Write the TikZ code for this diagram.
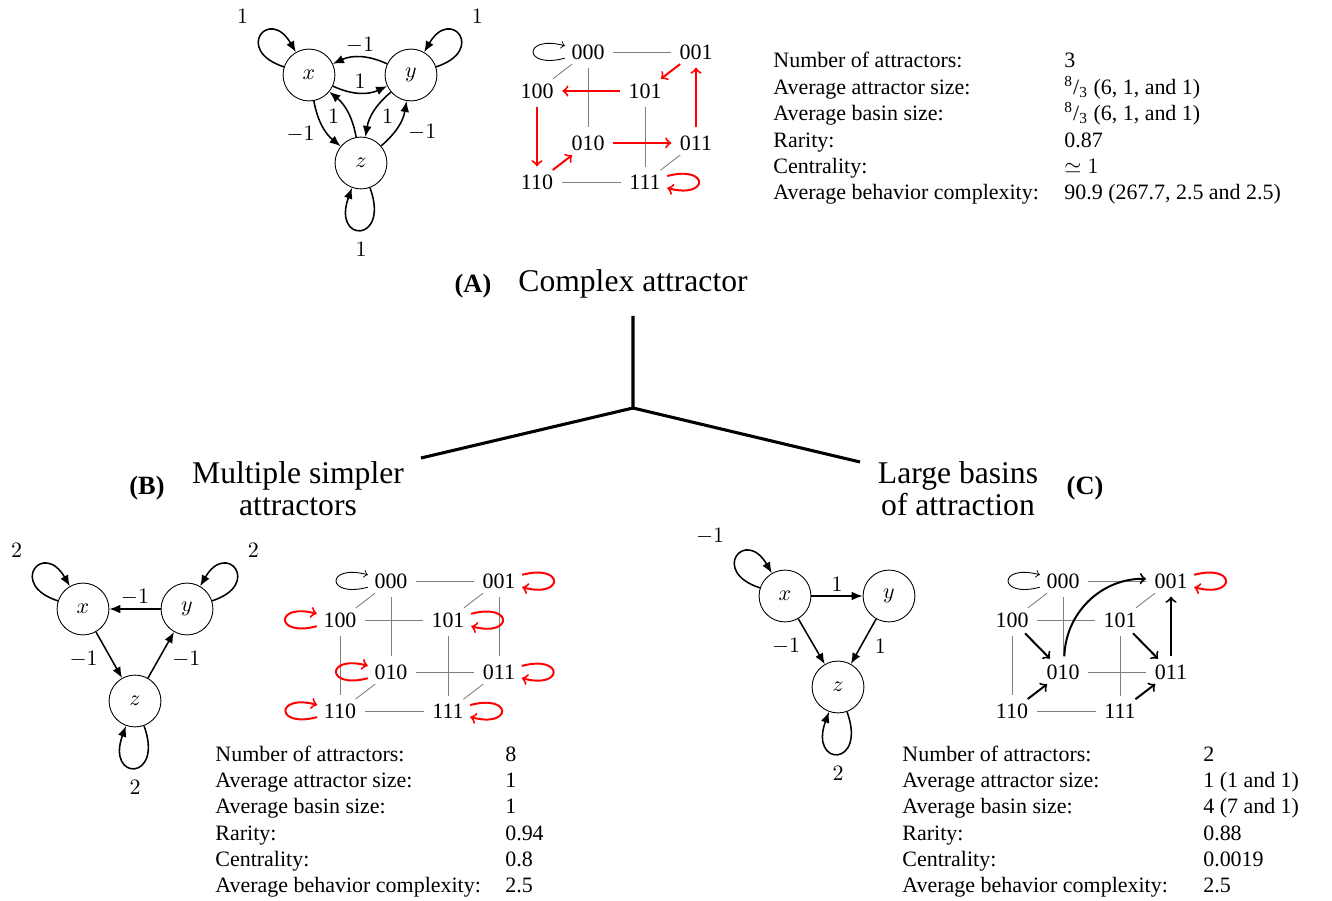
\documentclass[tikz,border=0pt]{standalone}
\usepackage{fontspec}
\setmainfont{Liberation Serif}
\usepackage{amsmath}
\usepackage{amssymb}
\usetikzlibrary{arrows}
\usetikzlibrary{arrows.meta}
\usetikzlibrary{shapes.geometric}

\begin{document}
\begin{tikzpicture}[
    x=0.016cm, y=0.016cm,
    >={Latex[length=5pt, width=4pt]},
    var/.style={circle, draw, line width=0.4pt, minimum size=0.83cm, inner sep=0pt},
    every edge/.append style={draw, ->, line width=0.7pt},
    wlabel/.style={inner sep=1.5pt},
    selfloop/.style={looseness=1, min distance=0.85cm},
    lowloop/.style={looseness=1, min distance=0.95cm, out=-70, in=-110},
    state/.style={ellipse, inner xsep=0.5pt, inner ysep=1.5pt},
    hyper/.style={draw=gray, line width=0.4pt},
    redstep/.style={draw=red, -to, line width=0.9pt},
    blkstep/.style={draw=black, -to, line width=0.9pt},
    stayl/.style={draw=black, -to, line width=0.4pt, out=195, in=165, looseness=1, min distance=0.7cm},
    stayr/.style={draw=red, -to, line width=0.9pt, out=15, in=-15, looseness=1, min distance=0.7cm},
    stayrl/.style={draw=red, -to, line width=0.9pt, out=195, in=165, looseness=1, min distance=0.7cm},
    stats/.style={anchor=base west, inner sep=0pt},
    branch/.style={line width=1.4pt}
]
\useasboundingbox (0,0) rectangle (1332,-901);

% (A) network :
\node[var] (ax) at (309,-75) {$x$};
\node[var] (ay) at (411,-75) {$y$};
\node[var] (az) at (361,-163) {$z$};

\draw (ax) edge[selfloop, out=162, in=120] node[wlabel, above left=4pt, pos=0.5] {$1$} (ax);
\draw (ay) edge[selfloop, out=18, in=60] node[wlabel, above right=4pt, pos=0.5] {$1$} (ay);
\draw (az) edge[lowloop] node[wlabel, below=4pt] {$1$} (az);
\draw (ay) edge[bend right=25] node[wlabel, above] {$-1$} (ax);
\draw (ax) edge[bend right=25] node[wlabel, above] {$1$} (ay);
\draw (ax) edge[bend right=20] node[wlabel, pos=0.7, left=4.5pt] {$-1$} (az);
\draw (az) edge[bend right=20] node[wlabel, pos=0.4, left=3pt] {$1$} (ax);
\draw (ay) edge[bend right=20] node[wlabel, pos=0.6, right=3pt] {$1$} (az);
\draw (az) edge[bend right=20] node[wlabel, pos=0.35, right=4.5pt] {$-1$} (ay);

% (A) state space :
\begin{scope}[shift={(537,-91)}]
\node[state] (a100) at (0,0) {100};
\node[state] (a101) at (108,0) {101};
\node[state] (a110) at (0,-91) {110};
\node[state] (a111) at (108,-91) {111};
\node[state] (a000) at (51,39) {000};
\node[state] (a001) at (159,39) {001};
\node[state] (a010) at (51,-52) {010};
\node[state] (a011) at (159,-52) {011};
\end{scope}

\draw[hyper] (a000) -- (a001);
\draw[hyper] (a000) -- (a100);
\draw[hyper] (a000) -- (a010);
\draw[hyper] (a101) -- (a111);
\draw[hyper] (a011) -- (a111);
\draw[hyper] (a110) -- (a111);
\draw (a001) edge[redstep] (a101);
\draw (a101) edge[redstep] (a100);
\draw (a100) edge[redstep] (a110);
\draw (a110) edge[redstep] (a010);
\draw (a010) edge[redstep] (a011);
\draw (a011) edge[redstep] (a001);
\draw (a000) edge[stayl] (a000);
\draw (a111) edge[stayr] (a111);

% (A) measures :
\node[stats] (sA) at (773,-68) {\begin{tabular}[t]{@{}p{132.5pt}@{}l@{}}
Number of attractors: & 3\\
Average attractor size: & \textsuperscript{8}/\textsubscript{3} (6, 1, and 1)\\
Average basin size: & \textsuperscript{8}/\textsubscript{3} (6, 1, and 1)\\
Rarity: & 0.87\\
Centrality: & $\simeq 1$\\
Average behavior complexity: & 90.9 (267.7, 2.5 and 2.5)
\end{tabular}};

% Titles and tree :
\node[font=\Large] (tA) at (633,-284) {Complex attractor};
\node[font=\large\bfseries] (lA) at (473,-286) {(A)};
\node[font=\fontsize{14.4}{14.6}\selectfont, align=center] (tB) at (298,-489) {Multiple simpler\\attractors};
\node[font=\large\bfseries] (lB) at (147,-488) {(B)};
\node[font=\fontsize{14.4}{14.6}\selectfont, align=center] (tC) at (958,-489) {Large basins\\of attraction};
\node[font=\large\bfseries] (lC) at (1085,-488) {(C)};

\coordinate (stem) at (633,-316);
\coordinate (fork) at (633,-408);
\coordinate (legB) at (421,-458);
\coordinate (legC) at (860,-462);
\draw[branch] (stem) -- (fork) -- (legB);
\draw[branch] (fork) -- (legC);

% (B) network :
\node[var] (bx) at (83,-609) {$x$};
\node[var] (by) at (187,-609) {$y$};
\node[var] (bz) at (135,-701) {$z$};

\draw (bx) edge[selfloop, out=162, in=120] node[wlabel, above left=4pt, pos=0.5] {$2$} (bx);
\draw (by) edge[selfloop, out=18, in=60] node[wlabel, above right=4pt, pos=0.5] {$2$} (by);
\draw (bz) edge[lowloop] node[wlabel, below=4pt] {$2$} (bz);
\draw (by) edge node[wlabel, above] {$-1$} (bx);
\draw (bx) edge node[wlabel, pos=0.6, left=4.5pt] {$-1$} (bz);
\draw (bz) edge node[wlabel, pos=0.4, right=4.5pt] {$-1$} (by);

% (B) state space :
\begin{scope}[shift={(340,-620)}]
\node[state] (b100) at (0,0) {100};
\node[state] (b101) at (108,0) {101};
\node[state] (b110) at (0,-91) {110};
\node[state] (b111) at (108,-91) {111};
\node[state] (b000) at (51,39) {000};
\node[state] (b001) at (159,39) {001};
\node[state] (b010) at (51,-52) {010};
\node[state] (b011) at (159,-52) {011};
\end{scope}

\draw[hyper] (b000) -- (b001);
\draw[hyper] (b000) -- (b100);
\draw[hyper] (b000) -- (b010);
\draw[hyper] (b001) -- (b101);
\draw[hyper] (b001) -- (b011);
\draw[hyper] (b100) -- (b101);
\draw[hyper] (b100) -- (b110);
\draw[hyper] (b101) -- (b111);
\draw[hyper] (b010) -- (b011);
\draw[hyper] (b010) -- (b110);
\draw[hyper] (b011) -- (b111);
\draw[hyper] (b110) -- (b111);
\draw (b000) edge[stayl] (b000);
\draw (b001) edge[stayr] (b001);
\draw (b101) edge[stayr] (b101);
\draw (b011) edge[stayr] (b011);
\draw (b111) edge[stayr] (b111);
\draw (b100) edge[stayrl] (b100);
\draw (b010) edge[stayrl] (b010);
\draw (b110) edge[stayrl] (b110);

% (B) measures :
\node[stats] (sB) at (215,-761) {\begin{tabular}[t]{@{}p{132pt}@{}l@{}}
Number of attractors: & 8\\
Average attractor size: & 1\\
Average basin size: & 1\\
Rarity: & 0.94\\
Centrality: & 0.8\\
Average behavior complexity: & 2.5
\end{tabular}};

% (C) network :
\node[var] (cx) at (785,-596) {$x$};
\node[var] (cy) at (889,-596) {$y$};
\node[var] (cz) at (838,-687) {$z$};

\draw (cx) edge[selfloop, out=162, in=120] node[wlabel, above left=4pt, pos=0.5] {$-1$} (cx);
\draw (cz) edge[lowloop] node[wlabel, below=4pt] {$2$} (cz);
\draw (cx) edge node[wlabel, above] {$1$} (cy);
\draw (cx) edge node[wlabel, pos=0.6, left=4.5pt] {$-1$} (cz);
\draw (cy) edge node[wlabel, pos=0.6, right=4.5pt] {$1$} (cz);

% (C) state space :
\begin{scope}[shift={(1012,-620)}]
\node[state] (c100) at (0,0) {100};
\node[state] (c101) at (108,0) {101};
\node[state] (c110) at (0,-91) {110};
\node[state] (c111) at (108,-91) {111};
\node[state] (c000) at (51,39) {000};
\node[state] (c001) at (159,39) {001};
\node[state] (c010) at (51,-52) {010};
\node[state] (c011) at (159,-52) {011};
\end{scope}

\draw[hyper] (c000) -- (c001);
\draw[hyper] (c000) -- (c100);
\draw[hyper] (c000) -- (c010);
\draw[hyper] (c001) -- (c101);
\draw[hyper] (c100) -- (c101);
\draw[hyper] (c100) -- (c110);
\draw[hyper] (c101) -- (c111);
\draw[hyper] (c010) -- (c011);
\draw[hyper] (c110) -- (c111);
\draw (c100) edge[blkstep] (c010);
\draw (c110) edge[blkstep] (c010);
\draw (c101) edge[blkstep] (c011);
\draw (c111) edge[blkstep] (c011);
\draw (c011) edge[blkstep] (c001);
\draw (c010) edge[blkstep, bend left=45] (c001);
\draw (c000) edge[stayl] (c000);
\draw (c001) edge[stayr] (c001);

% (C) measures :
\node[stats] (sC) at (902,-761) {\begin{tabular}[t]{@{}p{137pt}@{}l@{}}
Number of attractors: & 2\\
Average attractor size: & 1 (1 and 1)\\
Average basin size: & 4 (7 and 1)\\
Rarity: & 0.88\\
Centrality: & 0.0019\\
Average behavior complexity: & 2.5
\end{tabular}};

\end{tikzpicture}
\end{document}
